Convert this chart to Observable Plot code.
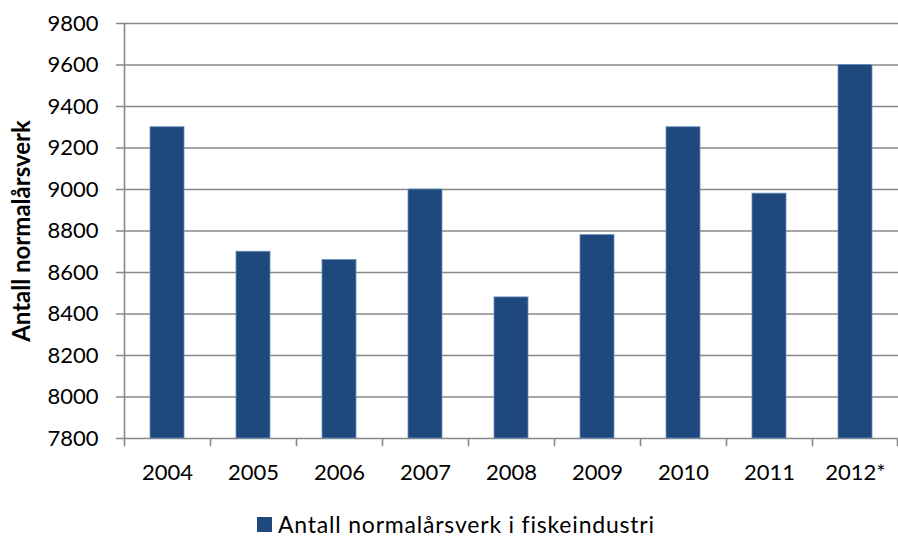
<!DOCTYPE html>
<html>
<head>
<meta charset="utf-8">
<script src="https://cdn.jsdelivr.net/npm/d3@7"></script>
<script src="https://cdn.jsdelivr.net/npm/@observablehq/plot@0.6"></script>
<style>
  html, body { margin: 0; padding: 0; background: #fff; }
  body { width: 898px; height: 538px; overflow: hidden; font-family: Lato, "Open Sans", sans-serif; position: relative; }
  #legend { position: absolute; left: 257px; top: 510px; display: flex; align-items: center; font-size: 23px; letter-spacing: 0.8px; color: #000; white-space: nowrap; }
  #legend .sw { width: 15px; height: 15px; background: #1F497D; margin-right: 6px; display: inline-block; }
</style>
</head>
<body>
<div id="chart"></div>
<div id="legend"><span class="sw"></span><span id="legendText"></span></div>
<script>
const years = ["2004", "2005", "2006", "2007", "2008", "2009", "2010", "2011", "2012*"];
const values = [9300, 8700, 8660, 9000, 8480, 8780, 9300, 8980, 9600];
const yTicks = [7800, 8000, 8200, 8400, 8600, 8800, 9000, 9200, 9400, 9600, 9800];
const seriesName = "Antall normalårsverk i fiskeindustri";
const yLabel = "Antall normalårsverk";

const data = years.map((y, i) => ({year: y, value: values[i]}));

const W = 898, ML = 124, MR = 0;
const step = (W - ML - MR) / years.length;
const gridColor = "#888888";

const chart = Plot.plot({
  width: W,
  height: 495,
  marginLeft: ML,
  marginRight: MR,
  marginTop: 23,
  marginBottom: 57,
  style: {fontFamily: "Lato, 'Open Sans', sans-serif", fontSize: "22px", color: "#000", background: "#fff", overflow: "visible"},
  x: {domain: years, paddingInner: 0.6, paddingOuter: 0.3, label: null},
  y: {domain: [7800, 9800], ticks: yTicks, label: null},
  marks: [
    Plot.ruleY(yTicks, {y: d => d, stroke: gridColor, strokeWidth: 1.6, insetLeft: -8}),
    Plot.frame({anchor: "left", stroke: gridColor, strokeWidth: 1.6}),
    Plot.ruleX(years, {x: d => d, dx: -step / 2, y1: 7800, y2: 7760, stroke: gridColor, strokeWidth: 1.6}),
    Plot.ruleX([years[years.length - 1]], {x: d => d, dx: step / 2 - 1, y1: 7800, y2: 7760, stroke: gridColor, strokeWidth: 1.6}),
    Plot.barY(data, {x: "year", y1: 7800, y2: "value", fill: "#1F497D", stroke: "#6d8fbf", strokeWidth: 0.8}),
    Plot.axisY(yTicks, {tickSize: 0, tickPadding: 26, tickFormat: d => String(d), fontSize: 22, label: null}),
    Plot.axisX({tickSize: 0, tickPadding: 26, fontSize: 22, label: null}),
    Plot.text([yLabel], {frameAnchor: "left", textAnchor: "middle", dx: -102, rotate: -90, fontWeight: "bold", fontSize: 24, text: d => d, fill: "#000"})
  ]
});
document.getElementById("chart").appendChild(chart);
document.getElementById("legendText").textContent = seriesName;
</script>
</body>
</html>
